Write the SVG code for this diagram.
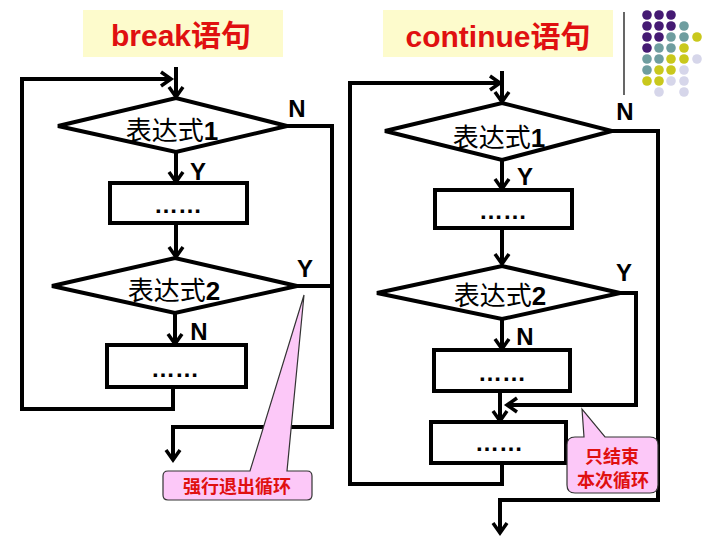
<svg xmlns="http://www.w3.org/2000/svg" width="720" height="540" viewBox="0 0 720 540">
<defs>
<marker id="arr" markerUnits="userSpaceOnUse" markerWidth="24" markerHeight="24" viewBox="-14 -12 24 24" refX="0" refY="0" orient="auto">
<path d="M-10,-7 L0,0 L-10,7" fill="none" stroke="#000" stroke-width="3.5" stroke-linejoin="miter"/>
</marker>
<style>
.ln{fill:none;stroke:#000;stroke-width:4;stroke-linejoin:miter}
.sh{fill:#fff;stroke:#000;stroke-width:4}
.title{font-family:"Liberation Sans","Noto Sans CJK SC",sans-serif;font-weight:bold;font-size:30px;fill:#e01010;text-anchor:middle}
.tb{fill:#fdfbcc}
.cond{font-family:"Liberation Sans","Noto Sans CJK SC",sans-serif;font-size:26px;fill:#000;text-anchor:middle}
.lab{font-family:"Liberation Sans",sans-serif;font-weight:bold;font-size:24px;fill:#000;text-anchor:middle}
.dots{font-family:"Liberation Sans",sans-serif;font-weight:bold;font-size:24px;fill:#000;text-anchor:middle}
.call{fill:#fcc8f8;stroke:#333;stroke-width:1.2}
.ct{font-family:"Noto Sans CJK SC",sans-serif;font-weight:bold;font-size:18px;fill:#e01010;text-anchor:middle}
.p{fill:#451a73}.t{fill:#6e9d9f}.y{fill:#c9c81c}.v{fill:#d6d6ea}
</style>
</defs>
<rect width="720" height="540" fill="#fff"/>

<!-- decoration -->
<g id="decor">
<line x1="624" y1="12" x2="624" y2="95" stroke="#000" stroke-width="1.2"/>
<circle class="p" cx="647" cy="15" r="4.8"/><circle class="p" cx="659" cy="15" r="4.8"/><circle class="p" cx="671" cy="15" r="4.8"/>
<circle class="p" cx="647" cy="26" r="4.8"/><circle class="p" cx="659" cy="26" r="4.8"/><circle class="p" cx="671" cy="26" r="4.8"/><circle class="t" cx="684" cy="26" r="4.8"/>
<circle class="p" cx="647" cy="37" r="4.8"/><circle class="p" cx="659" cy="37" r="4.8"/><circle class="t" cx="671" cy="37" r="4.8"/><circle class="t" cx="684" cy="37" r="4.8"/><circle class="y" cx="697" cy="37" r="4.8"/>
<circle class="p" cx="647" cy="48" r="4.8"/><circle class="t" cx="659" cy="48" r="4.8"/><circle class="t" cx="671" cy="48" r="4.8"/><circle class="y" cx="684" cy="48" r="4.8"/>
<circle class="t" cx="647" cy="59" r="4.8"/><circle class="t" cx="659" cy="59" r="4.8"/><circle class="y" cx="671" cy="59" r="4.8"/><circle class="y" cx="684" cy="59" r="4.8"/><circle class="v" cx="697" cy="59" r="4.8"/>
<circle class="t" cx="647" cy="70" r="4.8"/><circle class="y" cx="659" cy="70" r="4.8"/><circle class="y" cx="671" cy="70" r="4.8"/><circle class="v" cx="684" cy="70" r="4.8"/>
<circle class="y" cx="647" cy="81" r="4.8"/><circle class="y" cx="659" cy="81" r="4.8"/><circle class="v" cx="671" cy="81" r="4.8"/><circle class="v" cx="684" cy="81" r="4.8"/>
<circle class="v" cx="659" cy="92" r="4.8"/><circle class="v" cx="684" cy="92" r="4.8"/>
</g>

<!-- titles -->
<g id="title-break">
<rect class="tb" x="83" y="10" width="200" height="47"/>
<text class="title" x="181" y="46">break语句</text>
</g>
<g id="title-continue">
<rect class="tb" x="383" y="10" width="230" height="47"/>
<text class="title" x="498" y="47">continue语句</text>
</g>

<!-- connectors -->
<g id="connectors">
<!-- break -->
<polyline class="ln" points="22,410 22,79 171,79" marker-end="url(#arr)"/>
<line class="ln" x1="176" y1="67" x2="176" y2="97" marker-end="url(#arr)"/>
<polyline class="ln" points="287,126 332,126 332,427 173,427 173,460" marker-end="url(#arr)"/>
<line class="ln" x1="176" y1="152" x2="176" y2="182" marker-end="url(#arr)"/>
<line class="ln" x1="176" y1="223" x2="176" y2="257" marker-end="url(#arr)"/>
<line class="ln" x1="297" y1="286" x2="332" y2="286"/>
<line class="ln" x1="175" y1="313" x2="175" y2="344" marker-end="url(#arr)"/>
<polyline class="ln" points="173,387 173,409 20,409"/>
<!-- continue -->
<polyline class="ln" points="502,463 502,484 350,484 350,83 500,83" marker-end="url(#arr)"/>
<line class="ln" x1="502" y1="71" x2="502" y2="102" marker-end="url(#arr)"/>
<polyline class="ln" points="612,131 658,131 658,500 500,500 500,533" marker-end="url(#arr)"/>
<line class="ln" x1="502" y1="160" x2="502" y2="189" marker-end="url(#arr)"/>
<line class="ln" x1="502" y1="228" x2="502" y2="264" marker-end="url(#arr)"/>
<polyline class="ln" points="620,293 636,293 636,405 507,405" marker-end="url(#arr)"/>
<line class="ln" x1="502" y1="319" x2="502" y2="349" marker-end="url(#arr)"/>
<line class="ln" x1="500" y1="391" x2="500" y2="421" marker-end="url(#arr)"/>
</g>

<!-- break nodes -->
<g id="b-cond1">
<polygon class="sh" points="58,126 176,98 287,126 176,152"/>
<text class="cond" x="172" y="140">表达式<tspan font-weight="bold">1</tspan></text>
</g>
<g id="b-box1">
<rect class="sh" x="110" y="183" width="137" height="40"/>
<text class="dots" x="178" y="213">……</text>
</g>
<g id="b-cond2">
<polygon class="sh" points="52,286 175,258 297,286 175,313"/>
<text class="cond" x="174" y="300">表达式<tspan font-weight="bold">2</tspan></text>
</g>
<g id="b-box2">
<rect class="sh" x="107" y="345" width="139" height="42"/>
<text class="dots" x="175" y="377">……</text>
</g>
<g id="b-labels">
<text class="lab" x="297" y="117">N</text>
<text class="lab" x="198" y="180">Y</text>
<text class="lab" x="305" y="277">Y</text>
<text class="lab" x="199" y="340">N</text>
</g>

<!-- continue nodes -->
<g id="c-cond1">
<polygon class="sh" points="385,131 502,103 612,131 502,160"/>
<text class="cond" x="499" y="147">表达式<tspan font-weight="bold">1</tspan></text>
</g>
<g id="c-box1">
<rect class="sh" x="435" y="190" width="137" height="38"/>
<text class="dots" x="503" y="219">……</text>
</g>
<g id="c-cond2">
<polygon class="sh" points="377,293 502,266 620,293 502,319"/>
<text class="cond" x="500" y="305">表达式<tspan font-weight="bold">2</tspan></text>
</g>
<g id="c-box2">
<rect class="sh" x="434" y="350" width="136" height="41"/>
<text class="dots" x="502" y="381">……</text>
</g>
<g id="c-box3">
<rect class="sh" x="431" y="422" width="135" height="41"/>
<text class="dots" x="499" y="451">……</text>
</g>
<g id="c-labels">
<text class="lab" x="625" y="120">N</text>
<text class="lab" x="525" y="185">Y</text>
<text class="lab" x="624" y="281">Y</text>
<text class="lab" x="525" y="345">N</text>
</g>

<!-- callouts -->
<g id="callout-break">
<path class="call" d="M168,471 L250,471 L304,295 L287,471 L307,471 Q312,471 312,476 L312,495 Q312,500 307,500 L168,500 Q163,500 163,495 L163,476 Q163,471 168,471 Z"/>
<text class="ct" x="237" y="493" font-size="19px">强行退出循环</text>
</g>
<g id="callout-continue">
<path class="call" d="M575,437 L584,437 L582,409 L605,437 L650,437 Q658,437 658,445 L658,485 Q658,493 650,493 L575,493 Q567,493 567,485 L567,445 Q567,437 575,437 Z"/>
<text class="ct" x="612" y="463">只结束</text>
<text class="ct" x="613" y="487">本次循环</text>
</g>
</svg>
